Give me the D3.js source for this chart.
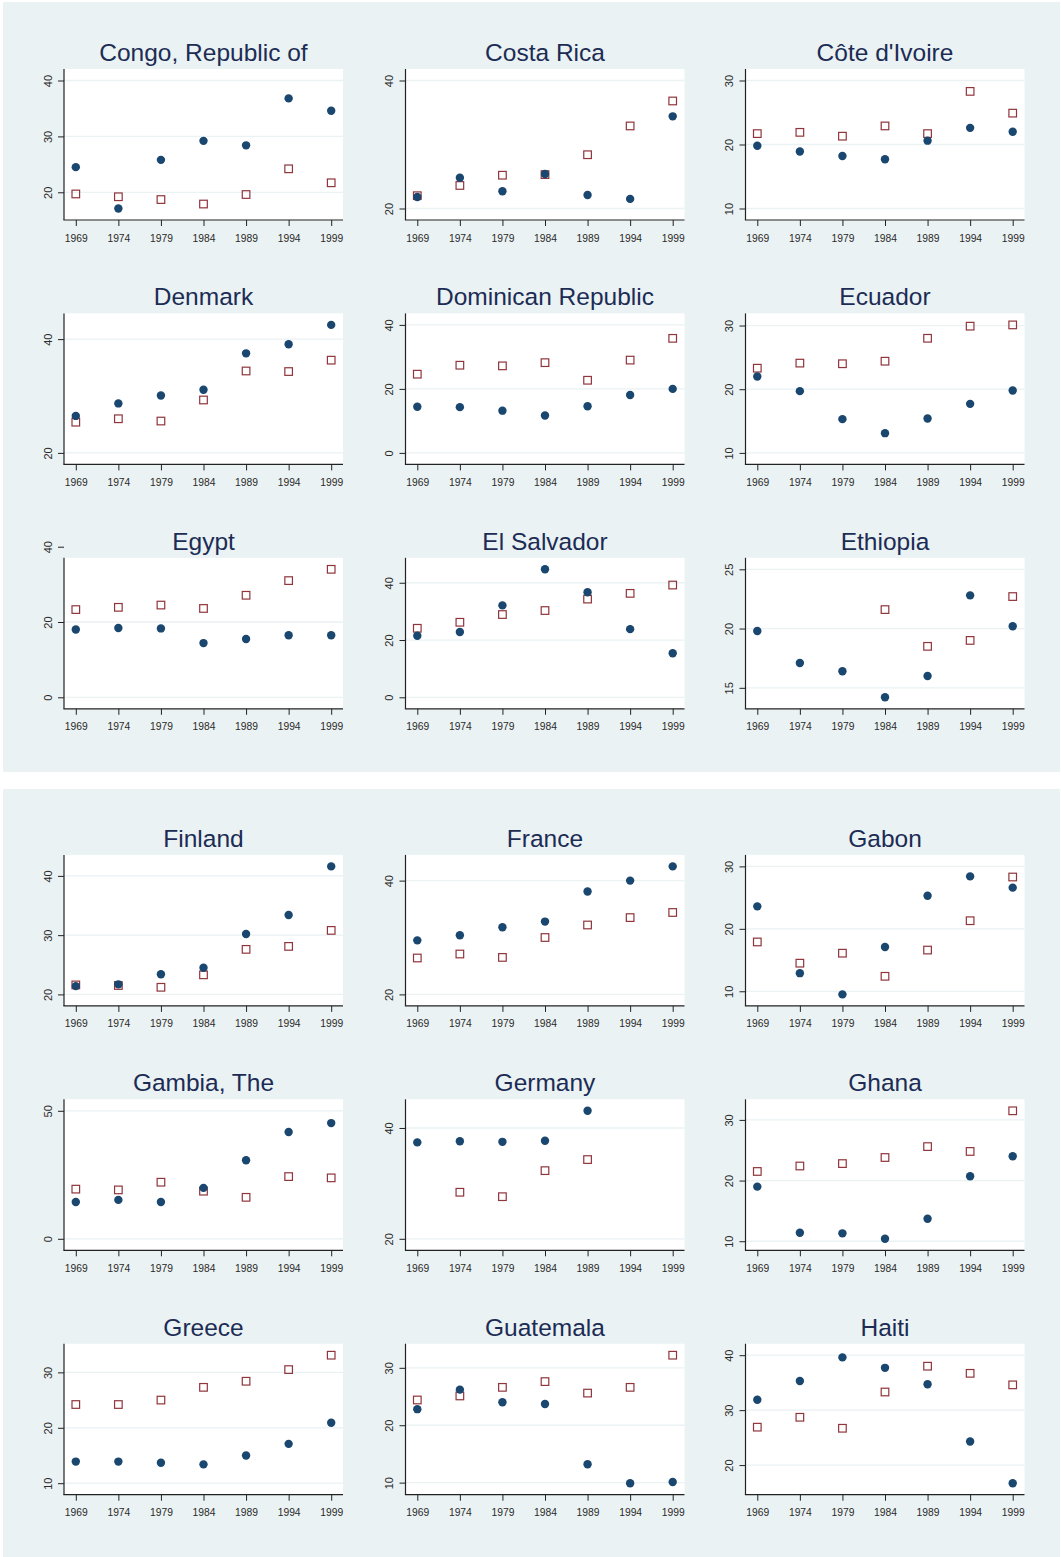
<!DOCTYPE html>
<html><head><meta charset="utf-8">
<script src="https://cdn.jsdelivr.net/npm/d3@7"></script>
<style>
html,body{margin:0;padding:0;background:#fff;}
svg{display:block;}
</style>
</head><body>
<svg id="c" width="1061" height="1557"></svg>
<script>
const countries = ["Congo, Republic of","Costa Rica","Côte d'Ivoire",
  "Denmark","Dominican Republic","Ecuador",
  "Egypt","El Salvador","Ethiopia",
  "Finland","France","Gabon",
  "Gambia, The","Germany","Ghana",
  "Greece","Guatemala","Haiti"];
const years = [1969,1974,1979,1984,1989,1994,1999];
const circleVals = [
  [24.5,17.1,25.8,29.2,28.4,36.8,34.6],
  [21.8,24.8,22.7,25.4,22.1,21.5,34.4],
  [19.8,18.9,18.2,17.7,20.6,22.6,22.0],
  [26.5,28.7,30.1,31.1,37.5,39.1,42.5],
  [14.4,14.3,13.2,11.7,14.6,18.1,20.0],
  [22.0,19.7,15.3,13.1,15.4,17.7,19.8],
  [18.0,18.4,18.3,14.4,15.5,16.5,16.5],
  [21.5,22.8,32.1,44.7,36.7,23.8,15.4],
  [19.8,17.1,16.4,14.2,16.0,22.8,20.2],
  [21.4,21.7,23.4,24.5,30.2,33.4,41.6],
  [29.5,30.4,31.8,32.8,38.1,40.0,42.5],
  [23.6,12.9,9.5,17.1,25.3,28.4,26.6],
  [14.4,15.2,14.4,19.9,30.7,41.7,45.2],
  [37.4,37.6,37.5,37.7,43.1,null,null],
  [19.0,11.4,11.3,10.4,13.7,20.7,24.0],
  [13.9,13.9,13.7,13.4,15.0,17.1,20.9],
  [22.8,26.2,24.0,23.7,13.2,9.9,10.1],
  [31.9,35.3,39.6,37.7,34.7,24.3,16.7]
];
const squareVals = [
  [19.7,19.2,18.7,17.9,19.6,24.2,21.7],
  [22.0,23.6,25.2,25.3,28.4,32.9,36.8],
  [21.7,21.9,21.3,22.9,21.7,28.3,24.9],
  [25.4,26.0,25.6,29.3,34.4,34.3,36.3],
  [24.6,27.4,27.2,28.2,22.7,29.0,35.8],
  [23.3,24.1,24.0,24.4,28.0,29.9,30.1],
  [23.3,23.9,24.5,23.6,27.1,31.0,34.0],
  [24.1,26.2,28.9,30.3,34.3,36.3,39.2],
  [null,null,null,21.6,18.5,19.0,22.7],
  [21.6,21.5,21.2,23.3,27.6,28.1,30.8],
  [26.4,27.1,26.5,30.0,32.2,33.5,34.4],
  [17.9,14.5,16.1,12.4,16.6,21.3,28.3],
  [19.4,19.1,22.1,18.6,16.2,24.3,23.8],
  [null,28.4,27.6,32.3,34.3,null,null],
  [21.5,22.4,22.8,23.8,25.6,24.8,31.5],
  [24.2,24.2,25.0,27.3,28.4,30.5,33.1],
  [24.4,25.1,26.6,27.6,25.6,26.6,32.2],
  [26.9,28.7,26.7,33.3,38.0,36.7,34.6]
];
const yTicks = [
  [20,30,40],[20,40],[10,20,30],
  [20,40],[0,20,40],[10,20,30],
  [0,20,40],[0,20,40],[15,20,25],
  [20,30,40],[20,40],[10,20,30],
  [0,50],[20,40],[10,20,30],
  [10,20,30],[10,20,30],[20,30,40]
];
const yLow  = [17.1,20,10, 20,0,10, 0,0,14.2, 20,20,9.5, 0,20,10.4, 10,9.9,16.7];
const yHigh = [40,40,30, 42.5,40,30.1, 34,44.7,25, 41.6,42.5,30, 50,43.1,31.5, 33.1,32.2,40];

// ---- layout ----
const svg = d3.select("#c");
const BG = "#eaf2f3", NAVY = "#1a476f", MAROON = "#90353b";
const FONT = "'Liberation Sans', Arial, Helvetica, sans-serif";
const colX = [64, 405.5, 745.5];
const rowTop = [69, 313.4, 557.8, 854.9, 1099.3, 1343.7];
const PW = 279, PH = 151, MX = 11.8, MY = 11.5;

svg.append("rect").attr("x",3).attr("y",2).attr("width",1057).attr("height",770).attr("fill",BG);
svg.append("rect").attr("x",3).attr("y",789).attr("width",1057).attr("height",768).attr("fill",BG);

countries.forEach((name, i) => {
  const col = i % 3, row = Math.floor(i / 3);
  const x0 = colX[col], y0 = rowTop[row];
  const g = svg.append("g");
  const x = d3.scaleLinear().domain([1969, 1999]).range([x0 + MX, x0 + PW - MX]);
  const y = d3.scaleLinear().domain([yLow[i], yHigh[i]]).range([y0 + PH - MY, y0 + MY]);

  // plot region
  g.append("rect").attr("x", x0).attr("y", y0).attr("width", PW).attr("height", PH).attr("fill", "#fff");

  // grid lines
  yTicks[i].filter(t => y(t) >= y0 - 0.5 && y(t) <= y0 + PH + 0.5).forEach(t => {
    g.append("line").attr("x1", x0).attr("x2", x0 + PW)
      .attr("y1", y(t)).attr("y2", y(t))
      .attr("stroke", BG).attr("stroke-width", 1.3);
  });

  // title
  g.append("text").attr("x", x0 + PW / 2).attr("y", y0 - 8)
    .attr("text-anchor", "middle").attr("font-family", FONT)
    .attr("font-size", 24.5).attr("fill", "#1c2c55").text(name);

  // y axis
  const ya = g.append("g").attr("transform", `translate(${x0},0)`)
    .call(d3.axisLeft(y).tickValues(yTicks[i]).tickSize(6).tickSizeOuter(0).tickFormat(d3.format("d")));
  ya.select(".domain").remove();
  ya.selectAll(".tick line").attr("stroke", "#222").attr("stroke-width", 1);
  ya.selectAll(".tick text")
    .attr("x", null).attr("dy", null)
    .attr("transform", "translate(-12.5,0) rotate(-90)")
    .attr("text-anchor", "middle")
    .attr("font-family", FONT).attr("font-size", 11).attr("fill", "#2a2a2a");
  g.append("line").attr("x1", x0).attr("x2", x0).attr("y1", y0).attr("y2", y0 + PH)
    .attr("stroke", "#222").attr("stroke-width", 1.2);

  // x axis
  const xa = g.append("g").attr("transform", `translate(0,${y0 + PH})`)
    .call(d3.axisBottom(x).tickValues(years).tickSize(6).tickSizeOuter(0).tickFormat(d3.format("d")));
  xa.select(".domain").remove();
  xa.selectAll(".tick line").attr("stroke", "#222").attr("stroke-width", 1);
  xa.selectAll(".tick text").attr("y", 21.5).attr("dy", null)
    .attr("font-family", FONT).attr("font-size", 10.3).attr("fill", "#2a2a2a");
  g.append("line").attr("x1", x0 - 0.6).attr("x2", x0 + PW).attr("y1", y0 + PH).attr("y2", y0 + PH)
    .attr("stroke", "#222").attr("stroke-width", 1.2);

  // squares
  const sq = years.map((yr, k) => ({yr, v: squareVals[i][k]})).filter(d => d.v != null);
  g.selectAll("rect.sq").data(sq).enter().append("rect").attr("class", "sq")
    .attr("x", d => x(d.yr) - 3.8).attr("y", d => y(d.v) - 3.8)
    .attr("width", 7.6).attr("height", 7.6)
    .attr("fill", "none").attr("stroke", MAROON).attr("stroke-width", 1.2);

  // circles
  const ci = years.map((yr, k) => ({yr, v: circleVals[i][k]})).filter(d => d.v != null);
  g.selectAll("circle").data(ci).enter().append("circle")
    .attr("cx", d => x(d.yr)).attr("cy", d => y(d.v)).attr("r", 4.2)
    .attr("fill", NAVY);
});
</script>
</body></html>
